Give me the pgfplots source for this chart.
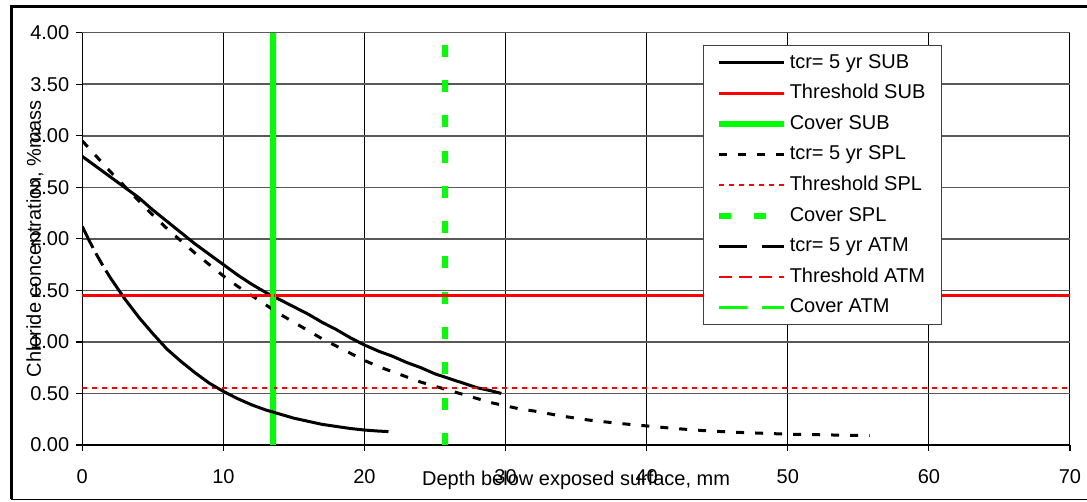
\documentclass[border=0pt]{standalone}
\usepackage{fontspec}
\setmainfont{Liberation Sans}
\usepackage{pgfplots}
\pgfplotsset{compat=1.18}
\definecolor{xlgreen}{RGB}{0,255,0}
\definecolor{xlred}{RGB}{255,0,0}
\begin{document}
\begin{tikzpicture}[font=\fontsize{10}{12}\selectfont]
\useasboundingbox (-41.15pt,-28.5pt) rectangle (502.35pt,222.5pt);
\draw[line width=0.6pt] (-35.4pt,-27.25pt) -- (520pt,-27.25pt);
\draw[line width=1.6pt] (-35.4pt,-27.25pt) -- (-35.4pt,219.15pt) -- (520pt,219.15pt);
\begin{axis}[
  at={(0pt,0pt)}, anchor=south west,
  scale only axis, width=493.85pt, height=206.15pt,
  xmin=0, xmax=70, ymin=0, ymax=4,
  xtick={0,10,20,30,40,50,60,70},
  ytick={0,0.5,1,1.5,2,2.5,3,3.5,4},
  axis lines*=left,
  axis line style={black, line width=0.6pt},
  tick align=outside, major tick length=3pt,
  tick style={black, line width=0.6pt},
  xmajorgrids, ymajorgrids,
  x grid style={black, line width=0.5pt},
  y grid style={black!65, line width=0.8pt},
  /pgf/number format/assume math mode=true,
  yticklabel style={/pgf/number format/.cd, fixed, fixed zerofill, precision=2},
  xticklabel style={yshift=-5.5pt},
  ticklabel style={font=\fontsize{10}{12}\selectfont},
  xlabel={Depth below exposed surface, mm},
  ylabel={Chloride concentration, \%mass},
  xlabel style={at={(axis description cs:0.5,-0.0849)}, anchor=center},
  ylabel style={at={(axis description cs:-0.0479,0.5)}, anchor=center},
  legend cell align=left,
  legend image code/.code={\draw[#1] (0pt,0pt) -- (32.5pt,0pt);},
  legend style={at={(axis description cs:0.628,0.970)}, anchor=north west,
    draw=black!75, line width=0.6pt, fill=white,
    font=\fontsize{10}{12}\selectfont,
    inner xsep=6.5pt, inner ysep=3pt, row sep=4.1pt,
    nodes={text height=7.2pt, text depth=2pt, inner ysep=1pt, inner xsep=1.5pt}},
]
% SUB
\addplot[black, line width=1.5pt] coordinates {
(0,2.80) (1,2.70) (2,2.60) (3,2.50) (4,2.40) (5,2.28) (6,2.17) (7,2.06) (8,1.95)
(9,1.85) (10,1.75) (11,1.65) (12,1.56) (13,1.48) (14,1.41) (15,1.34) (16,1.27)
(17,1.19) (18,1.12) (19,1.04) (20,0.97) (21,0.91) (22,0.86) (23,0.80) (24,0.75)
(25,0.69) (26,0.645) (27,0.60) (28,0.555) (29,0.525) (29.7,0.50)};
\addlegendentry{tcr= 5 yr SUB}
\addplot[xlred, line width=1.1pt] coordinates {(0,1.45) (70,1.45)};
\addlegendentry{Threshold SUB}
\addplot[xlgreen, line width=2.8pt] coordinates {(13.5,0) (13.5,4)};
\addlegendentry{Cover SUB}
% SPL
\addplot[black, line width=1.5pt, dash pattern=on 4pt off 5.5pt] coordinates {
(0,2.95) (1,2.80) (2,2.65) (3,2.51) (4,2.37) (5,2.23) (6,2.10) (7,1.98) (8,1.86)
(9,1.75) (10,1.64) (11,1.54) (12,1.45) (13,1.36) (14,1.27) (15,1.19) (16,1.11)
(17,1.03) (18,0.96) (19,0.89) (20,0.82) (21,0.76) (22,0.71) (23,0.66) (24,0.61)
(25,0.57) (26,0.53) (27,0.49) (28,0.45) (29,0.41) (30,0.38) (31,0.35) (32,0.33)
(33,0.305) (34,0.28) (35,0.26) (36,0.24) (38,0.21) (40,0.185) (42,0.16) (44,0.14)
(46,0.125) (48,0.115) (50,0.105) (52,0.10) (54,0.095) (55.8,0.09)};
\addlegendentry{tcr= 5 yr SPL}
\addplot[xlred, line width=1.1pt, dash pattern=on 2.5pt off 2.5pt] coordinates {(0,0.55) (70,0.55)};
\addlegendentry{Threshold SPL}
\addplot[xlgreen, line width=2.8pt, dash pattern=on 6pt off 11.65pt] coordinates {(25.7,0) (25.7,4)};
\addlegendentry{Cover SPL}
% ATM
\addplot[black, line width=1.5pt, dash pattern=on 12pt off 3pt on 7pt off 3pt on 500pt off 1pt,
  legend image post style={dash pattern=on 14pt off 7.5pt}] coordinates {
(0,2.12) (0.5,1.98) (1,1.85) (1.5,1.73) (2,1.62) (2.5,1.52) (3,1.42) (4,1.24)
(5,1.08) (6,0.93) (7,0.81) (8,0.70) (9,0.60) (10,0.52) (11,0.45) (12,0.39)
(13,0.34) (14,0.30) (15,0.26) (16,0.23) (17,0.20) (18,0.18) (19,0.16) (20,0.145)
(21,0.135) (21.7,0.13)};
\addlegendentry{tcr= 5 yr ATM}
\addplot[xlred, line width=1.1pt, dash pattern=on 6.5pt off 3.5pt] coordinates {(0,1.45) (70,1.45)};
\addlegendentry{Threshold ATM}
\addplot[xlgreen, line width=1.7pt, dash pattern=on 14pt off 7.5pt] coordinates {(13.5,0) (13.5,4)};
\addlegendentry{Cover ATM}
\end{axis}
\end{tikzpicture}
\end{document}
